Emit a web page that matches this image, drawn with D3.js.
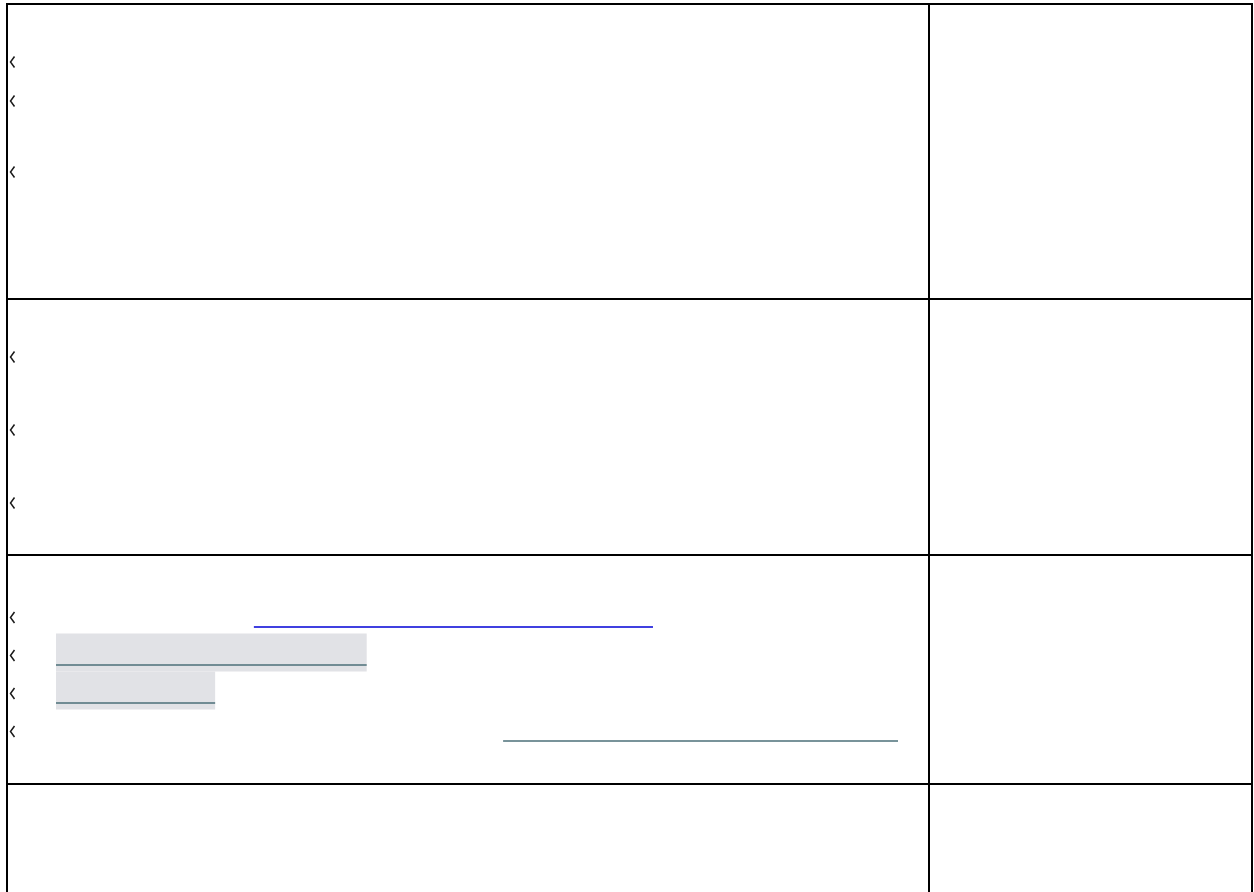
<!DOCTYPE html>
<html>
<head>
<meta charset="utf-8">
<script src="https://cdn.jsdelivr.net/npm/d3@7"></script>
<style>
  html, body { margin: 0; padding: 0; background: #fff; }
  svg { display: block; }
</style>
</head>
<body>
<script>
// rows of the table and how many entries each one holds
var rowNames = ["row1", "row2", "row3", "row4"];
var rowEntries = [3, 3, 4, 0];

// ranges drawn in the third row (0-100 units)
var segKind = ["link", "bar", "bar", "rule"];
var segStart = [23.5, 0, 0, 53.1];
var segEnd = [70.9, 36.9, 18.9, 100];

var W = 1254, H = 892;
var gridLeft = 7, gridRight = 1252, gridTop = 4, split = 929;
var rowTops = [gridTop, 299, 555, 784];
// vertical position of the chevrons inside rows 1 and 2
var slotOffsets = [[58, 97, 168], [58, 131, 204]];

var svg = d3.select("body").append("svg")
    .attr("width", W)
    .attr("height", H);

svg.append("rect").attr("width", W).attr("height", H).attr("fill", "#fff");

var x = d3.scaleLinear().domain([0, 100]).range([56, 898]);
var yRow3 = d3.scaleLinear().domain([0, 3]).range([627, 741]);

var segs = segKind.map(function(k, i) {
  return {kind: k, start: segStart[i], end: segEnd[i], i: i};
});

// grey bars first, so the lines sit on top
svg.append("g").selectAll("rect")
    .data(segs.filter(d => d.kind == "bar"))
    .enter().append("rect")
    .attr("x", d => x(d.start))
    .attr("y", d => yRow3(d.i) - 31.5)
    .attr("width", d => x(d.end) - x(d.start))
    .attr("height", 38)
    .attr("fill", "#e1e2e6");

svg.append("g").selectAll("line")
    .data(segs)
    .enter().append("line")
    .attr("x1", d => x(d.start))
    .attr("x2", d => x(d.end))
    .attr("y1", d => yRow3(d.i))
    .attr("y2", d => yRow3(d.i))
    .attr("stroke", d => d.kind == "link" ? "#0000d6" : "#4b6f78")
    .attr("stroke-width", 1.5);

// chevrons on the left edge
var marks = [];
rowNames.forEach(function(r, ri) {
  for (var j = 0; j < rowEntries[ri]; j++) {
    var cy = ri < 2 ? rowTops[ri] + slotOffsets[ri][j] : yRow3(j) - 9.5;
    marks.push({row: r, cy: cy});
  }
});

svg.append("g").selectAll("path")
    .data(marks)
    .enter().append("path")
    .attr("d", d => `M14.5,${d.cy - 5.5}L10.5,${d.cy}L14.5,${d.cy + 5.5}`)
    .attr("fill", "none")
    .attr("stroke", "#1a1a1a")
    .attr("stroke-width", 1.5);

// table grid
var grid = svg.append("g")
    .attr("stroke", "#000")
    .attr("stroke-width", 2);

grid.append("line").attr("x1", gridLeft).attr("x2", gridLeft).attr("y1", gridTop - 1).attr("y2", H);
grid.append("line").attr("x1", gridRight).attr("x2", gridRight).attr("y1", gridTop - 1).attr("y2", H);
grid.append("line").attr("x1", split).attr("x2", split).attr("y1", gridTop - 1).attr("y2", H);

grid.selectAll(".hline")
    .data(rowTops)
    .enter().append("line")
    .attr("class", "hline")
    .attr("x1", gridLeft - 1)
    .attr("x2", gridRight + 1)
    .attr("y1", d => d)
    .attr("y2", d => d);
</script>
</body>
</html>
